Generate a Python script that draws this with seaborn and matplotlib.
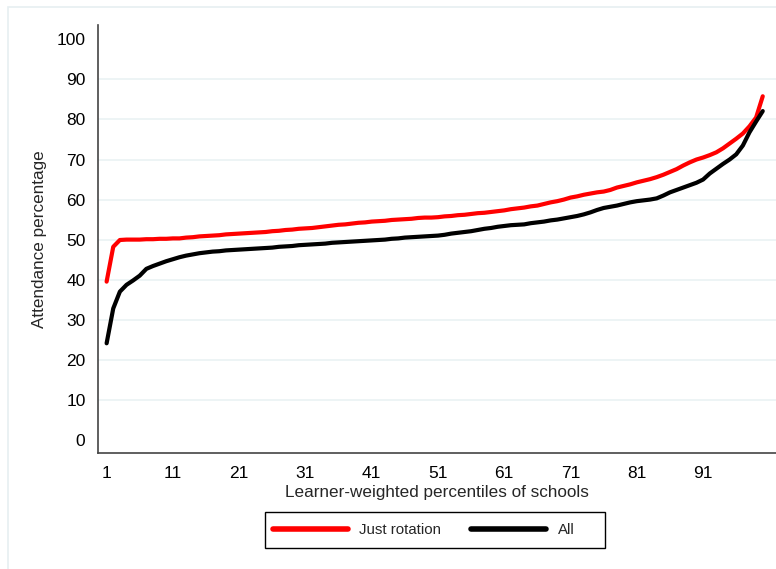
import numpy as np
import pandas as pd
import matplotlib
matplotlib.use("Agg")
import matplotlib.pyplot as plt
import seaborn as sns
from matplotlib.lines import Line2D
from matplotlib.patches import Rectangle

percentiles = list(range(1, 101))

just_rotation = [
    39.5, 48.2, 49.9, 50.0, 50.0, 50.0, 50.1, 50.1, 50.2, 50.2,
    50.3, 50.3, 50.5, 50.6, 50.8, 50.9, 51.0, 51.1, 51.3, 51.4,
    51.5, 51.6, 51.7, 51.8, 51.9, 52.1, 52.2, 52.4, 52.5, 52.7,
    52.8, 52.9, 53.1, 53.3, 53.5, 53.7, 53.8, 54.0, 54.2, 54.3,
    54.5, 54.6, 54.7, 54.9, 55.0, 55.1, 55.2, 55.4, 55.5, 55.5,
    55.6, 55.8, 55.9, 56.1, 56.2, 56.4, 56.6, 56.7, 56.9, 57.1,
    57.3, 57.6, 57.8, 58.0, 58.3, 58.5, 58.9, 59.3, 59.6, 60.0,
    60.5, 60.8, 61.2, 61.5, 61.8, 62.0, 62.4, 63.0, 63.4, 63.8,
    64.3, 64.7, 65.1, 65.6, 66.2, 66.9, 67.6, 68.5, 69.3, 70.0,
    70.5, 71.1, 71.8, 72.8, 74.0, 75.2, 76.5, 78.3, 80.5, 85.8,
]

all_schools = [
    24.1, 32.8, 37.0, 38.7, 39.8, 41.0, 42.7, 43.4, 44.0, 44.6,
    45.1, 45.6, 46.0, 46.3, 46.6, 46.8, 47.0, 47.1, 47.3, 47.4,
    47.5, 47.6, 47.7, 47.8, 47.9, 48.0, 48.2, 48.3, 48.4, 48.6,
    48.7, 48.8, 48.9, 49.0, 49.2, 49.3, 49.4, 49.5, 49.6, 49.7,
    49.8, 49.9, 50.0, 50.2, 50.3, 50.5, 50.6, 50.7, 50.8, 50.9,
    51.0, 51.2, 51.5, 51.7, 51.9, 52.1, 52.4, 52.7, 52.9, 53.2,
    53.4, 53.6, 53.7, 53.8, 54.1, 54.3, 54.5, 54.8, 55.0, 55.3,
    55.6, 55.9, 56.3, 56.8, 57.4, 57.9, 58.2, 58.5, 58.9, 59.3,
    59.6, 59.8, 60.0, 60.3, 61.0, 61.8, 62.4, 63.0, 63.6, 64.2,
    65.0, 66.5, 67.7, 68.9, 70.0, 71.3, 73.5, 76.8, 79.5, 82.1,
]

series_names = ["Just rotation", "All"]
series_colors = ["#FF0000", "#000000"]
x_ticks = [1, 11, 21, 31, 41, 51, 61, 71, 81, 91]
y_ticks = [0, 10, 20, 30, 40, 50, 60, 70, 80, 90, 100]

df = pd.DataFrame({
    "percentile": percentiles * 2,
    "attendance": just_rotation + all_schools,
    "series": [series_names[0]] * len(percentiles) + [series_names[1]] * len(percentiles),
})

sns.set_style("white")
plt.rcParams["font.family"] = ["Liberation Sans", "DejaVu Sans"]

W, H = 776, 569
fig = plt.figure(figsize=(W / 100, H / 100), dpi=100)
fig.patch.set_facecolor("white")

# faint outer frame
fig.patches.append(Rectangle((8 / W, -0.1), 1.2, (H - 7) / H + 0.1,
                             transform=fig.transFigure, fill=False,
                             edgecolor="#E6EFF1", linewidth=1.2, zorder=0))

ax = fig.add_axes([98 / W, 1 - 453 / H, (W - 98) / W, (453 - 25) / H])
ax.set_facecolor("white")

for yv in y_ticks[1:-1]:
    ax.axhline(yv, color="#EAF2F3", linewidth=1.2, zorder=0)

sns.lineplot(data=df, x="percentile", y="attendance", hue="series",
             palette=dict(zip(series_names, series_colors)),
             linewidth=3.0, ax=ax, legend=False, zorder=3)

ax.set_xlim(-0.3, 102)
ax.set_ylim(-3.3, 103.6)
ax.set_xticks(x_ticks)
ax.set_yticks(y_ticks)
ax.set_xticklabels([str(t) for t in x_ticks], fontsize=12.5)
ax.set_yticklabels([str(t) for t in y_ticks], fontsize=12.5)
ax.tick_params(axis="both", direction="out", length=6, width=1, color="#444444",
               labelcolor="#000000", pad=3)

for s in ["top", "right"]:
    ax.spines[s].set_visible(False)
for s in ["left", "bottom"]:
    ax.spines[s].set_color("#444444")
    ax.spines[s].set_linewidth(1.2)

ax.set_xlabel("Learner-weighted percentiles of schools", fontsize=12.3, labelpad=3)
ax.set_ylabel("Attendance percentage", fontsize=12.3, labelpad=7)

# legend frame drawn at reference position
fig.patches.append(Rectangle((265 / W, 1 - 548 / H), (605 - 265) / W, 36 / H,
                             transform=fig.transFigure, fill=False,
                             edgecolor="#000000", linewidth=1.0, zorder=5))

handles = [Line2D([0], [0], color=c, linewidth=4) for c in series_colors]
leg = fig.legend(handles, series_names, loc="center left",
                 bbox_to_anchor=(273 / W, 1 - 530 / H), ncol=2,
                 frameon=False, fontsize=10.8,
                 handlelength=5.0, columnspacing=2.0, handletextpad=0.75,
                 borderpad=0.0, borderaxespad=0.0)

fig.savefig("out.png", dpi=100)
